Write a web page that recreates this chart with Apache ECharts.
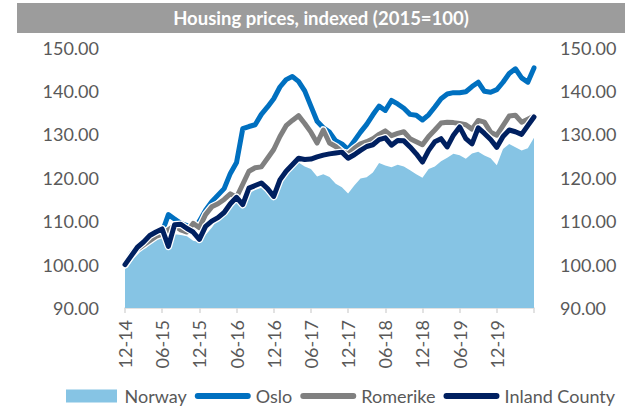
<!DOCTYPE html>
<html>
<head>
<meta charset="utf-8">
<title>Housing prices, indexed (2015=100)</title>
<script src="https://cdn.jsdelivr.net/npm/echarts@6/dist/echarts.min.js"></script>
<style>
  html, body { margin: 0; padding: 0; background: #ffffff; }
  #chart { width: 634px; height: 406px; }
</style>
</head>
<body>
<div id="chart"></div>
<script>
// Monthly observations, Dec 2014 – Jun 2020 (MM-YY)
const months = [
  '12-14',
  '01-15','02-15','03-15','04-15','05-15','06-15','07-15','08-15','09-15','10-15','11-15','12-15',
  '01-16','02-16','03-16','04-16','05-16','06-16','07-16','08-16','09-16','10-16','11-16','12-16',
  '01-17','02-17','03-17','04-17','05-17','06-17','07-17','08-17','09-17','10-17','11-17','12-17',
  '01-18','02-18','03-18','04-18','05-18','06-18','07-18','08-18','09-18','10-18','11-18','12-18',
  '01-19','02-19','03-19','04-19','05-19','06-19','07-19','08-19','09-19','10-19','11-19','12-19',
  '01-20','02-20','03-20','04-20','05-20','06-20'
];

// Price index per region (2015 = 100)
const norway = [
  100, 102, 103.5, 104.3, 105.5, 106, 106.5, 105.8, 107, 106.8,
  106.5, 105.5, 105.2, 106.8, 108.5, 110.5, 112, 113.2, 114.6, 113.2,
  116.4, 117.2, 117.7, 116.5, 115.4, 118.6, 120.5, 121.8, 123.5, 122.6,
  122, 120.3, 120.8, 120.2, 118.6, 117.8, 116.4, 118.2, 119.8, 120.1,
  121.2, 123.4, 122.8, 122.4, 123, 122.6, 121.7, 120.8, 120, 122,
  122.6, 123.8, 124.6, 125.5, 125.2, 124.4, 125.6, 126, 125.1, 124.5,
  122.9, 126.6, 127.8, 127, 126.3, 126.8, 129.2
];
const oslo = [
  100, 102.5, 104, 104.5, 106, 107, 107.5, 111.5, 110.5, 109.5,
  109, 107.8, 110, 112.5, 114.5, 116, 117.5, 121, 123.5, 131.3,
  131.8, 132.2, 134.6, 136.3, 138.2, 140.9, 142.6, 143.3, 142.2, 140,
  136.5, 133, 131.5, 130.5, 128.5, 127.8, 126.5, 128.5, 130.5, 132.3,
  134.5, 136.5, 135.5, 137.8, 137, 136, 134.6, 134.4, 133.3, 134.5,
  136.3, 138.2, 139.3, 139.6, 139.6, 139.8, 141, 142, 139.9, 139.7,
  140.3, 142, 144, 145.1, 143, 142, 145.3
];
const romerike = [
  100, 102, 103.5, 104.5, 105.5, 106.5, 107, 108, 109, 108,
  107.5, 109.5, 108.5, 111.5, 113.3, 114, 115, 116.3, 115.5, 118.5,
  121.5, 122.3, 122.5, 124.5, 126.5, 129.5, 132, 133.2, 134.3, 132.5,
  130.5, 128, 131, 128, 127.2, 126, 125.5, 126.8, 127.8, 128.3,
  129, 130, 130.8, 129.7, 130.2, 130.6, 129, 128.3, 127.6, 129.5,
  131, 132.6, 132.8, 132.7, 132.5, 132.2, 131.2, 133.2, 132.8, 130.5,
  129.8, 132, 134.2, 134.4, 132.8, 133.5, 134.2
];
const inland = [
  100, 102, 104, 105.2, 106.7, 107.5, 108.2, 104.2, 109.2, 109.3,
  108.3, 107.5, 105.8, 108.8, 110, 110.8, 112, 114, 115.5, 113.8,
  117.6, 118.2, 118.8, 117.5, 115.7, 119.5, 121.5, 123, 124.5, 124.2,
  124.3, 124.8, 125.2, 125.5, 125.7, 125.9, 124.5, 125.3, 126.3, 127.2,
  127.6, 128.8, 129.2, 127.5, 128.6, 128.5, 127.1, 125.5, 123.6, 126.3,
  128.3, 129, 127.1, 129.8, 131.7, 129, 127.8, 131.5, 130.2, 128.8,
  127, 129.5, 131, 130.6, 130, 132, 134
];

const seriesNames = ['Norway', 'Oslo', 'Romerike', 'Inland County'];
const titleText = 'Housing prices, indexed (2015=100)';

// Value axis range and step
const yMin = 90, yMax = 150, yStep = 10;

const colors = {
  area: '#86c4e4',
  oslo: '#0070c0',
  romerike: '#808080',
  inland: '#002060',
  text: '#595959',
  axis: '#d9d9d9',
  band: '#9c9c9c'
};

const FONT = 'Lato, "Open Sans", sans-serif';
const LINE_W = 5;

// Legend keys: a filled block for the area, a flat bar with rounded ends for the lines
const AREA_KEY = 'path://M0,0H51V13H0Z';
const LINE_KEY = 'path://M3,0H54A3,3,0,0,1,54,6H3A3,3,0,0,1,3,0Z';

// A line drawn over a slightly wider white stroke so it separates from what lies beneath
function outlinedLine(name, data, color) {
  return [
    {
      name: name + ' outline',
      type: 'line',
      data: data,
      symbol: 'none',
      silent: true,
      lineStyle: { color: '#ffffff', width: LINE_W + 2.5, cap: 'round', join: 'round' },
      itemStyle: { color: '#ffffff' },
      emphasis: { disabled: true },
      animation: false
    },
    {
      name: name,
      type: 'line',
      data: data,
      symbol: 'none',
      lineStyle: { color: color, width: LINE_W, cap: 'round', join: 'round' },
      itemStyle: { color: color },
      emphasis: { disabled: true },
      animation: false
    }
  ];
}

const chart = echarts.init(document.getElementById('chart'), null, { renderer: 'svg' });

chart.setOption({
  backgroundColor: '#ffffff',
  animation: false,
  textStyle: { fontFamily: FONT },
  graphic: [
    {
      type: 'rect',
      shape: { x: 17, y: 3, width: 608, height: 30 },
      style: { fill: colors.band },
      silent: true
    },
    {
      type: 'text',
      x: 321,
      y: 18,
      style: {
        text: titleText,
        fill: '#ffffff',
        font: 'bold 18.5px ' + FONT,
        align: 'center',
        verticalAlign: 'middle'
      },
      silent: true
    }
  ],
  legend: {
    left: 61,
    top: 382,
    itemWidth: 56,
    itemHeight: 13,
    itemGap: 8,
    symbolKeepAspect: true,
    textStyle: { color: colors.text, fontSize: 18, fontFamily: FONT },
    data: [
      { name: seriesNames[0], icon: AREA_KEY, itemStyle: { color: colors.area } },
      { name: seriesNames[1], icon: LINE_KEY, itemStyle: { color: colors.oslo } },
      { name: seriesNames[2], icon: LINE_KEY, itemStyle: { color: colors.romerike } },
      { name: seriesNames[3], icon: LINE_KEY, itemStyle: { color: colors.inland } }
    ]
  },
  grid: { left: 125, right: 100, top: 47.5, bottom: 98, containLabel: false },
  xAxis: {
    type: 'category',
    data: months,
    boundaryGap: false,
    axisLine: { lineStyle: { color: colors.axis, width: 1.5 } },
    axisTick: {
      show: true,
      interval: (i) => i % 6 === 0,
      length: 5,
      lineStyle: { color: colors.axis, width: 1.5 }
    },
    axisLabel: {
      interval: (i) => i % 6 === 0 && i <= 60,
      rotate: 90,
      margin: 12,
      color: colors.text,
      fontSize: 18,
      fontFamily: FONT
    },
    splitLine: { show: false }
  },
  yAxis: [
    {
      type: 'value',
      min: yMin, max: yMax, interval: yStep,
      position: 'left',
      axisLine: { show: false },
      axisTick: { show: false },
      splitLine: { show: false },
      axisLabel: {
        margin: 26,
        color: colors.text,
        fontSize: 18,
        fontFamily: FONT,
        formatter: (v) => v.toFixed(2)
      }
    },
    {
      type: 'value',
      min: yMin, max: yMax, interval: yStep,
      position: 'right',
      axisLine: { show: false },
      axisTick: { show: false },
      splitLine: { show: false },
      axisLabel: {
        margin: 26,
        color: colors.text,
        fontSize: 18,
        fontFamily: FONT,
        formatter: (v) => v.toFixed(2)
      }
    }
  ],
  series: [
    {
      name: seriesNames[0],
      type: 'line',
      data: norway,
      symbol: 'none',
      lineStyle: { width: 0 },
      itemStyle: { color: colors.area },
      areaStyle: { color: colors.area, opacity: 1 },
      emphasis: { disabled: true },
      animation: false
    },
    ...outlinedLine(seriesNames[1], oslo, colors.oslo),
    ...outlinedLine(seriesNames[2], romerike, colors.romerike),
    ...outlinedLine(seriesNames[3], inland, colors.inland)
  ]
});
</script>
</body>
</html>
